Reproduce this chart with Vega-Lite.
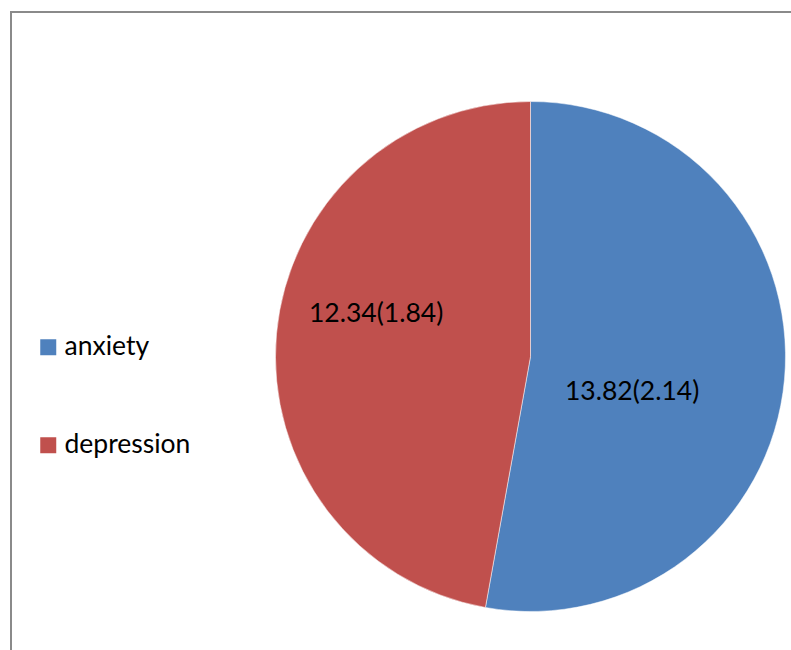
{
  "$schema": "https://vega.github.io/schema/vega-lite/v6.json",
  "autosize": {"type": "none"},
  "padding": {"left": 11, "top": 12, "right": 0, "bottom": 0},
  "width": 1039,
  "height": 689,
  "background": "white",
  "config": {
    "view": {"stroke": null},
    "font": "Lato"
  },
  "data": {
    "values": [
      {"category": "anxiety", "value": 13.82, "label": "13.82(2.14)"},
      {"category": "depression", "value": 12.34, "label": "12.34(1.84)"}
    ]
  },
  "layer": [
    {
      "data": {"values": [{"frame": "chart area"}]},
      "mark": {"type": "rect", "fill": null, "filled": false, "stroke": "#8a8a8a", "strokeWidth": 2},
      "encoding": {}
    },
    {
      "mark": {"type": "arc", "radius": 255, "stroke": "white", "strokeWidth": 0.5},
      "encoding": {
        "theta": {"field": "value", "type": "quantitative", "stack": true},
        "order": {"field": "category", "sort": "ascending"},
        "color": {
          "field": "category",
          "type": "nominal",
          "scale": {"domain": ["anxiety", "depression"], "range": ["#4F81BD", "#C0504D"]},
          "legend": {
            "title": null,
            "orient": "none",
            "legendX": 24,
            "legendY": 322,
            "symbolType": "square",
            "symbolSize": 256,
            "symbolStrokeWidth": 0,
            "labelFont": "Lato",
            "labelFontSize": 26.5,
            "labelColor": "black",
            "labelOffset": 3,
            "rowPadding": 71,
            "padding": 0
          }
        }
      }
    },
    {
      "mark": {"type": "text", "radius": 102, "dy": 26, "fontSize": 26.5, "font": "Lato", "color": "black", "baseline": "middle", "align": "center"},
      "encoding": {
        "theta": {"field": "value", "type": "quantitative", "stack": true},
        "order": {"field": "category", "sort": "ascending"},
        "text": {"condition": {"test": "datum.category == 'anxiety'", "field": "label"}, "value": ""}
      }
    },
    {
      "mark": {"type": "text", "radius": 155, "dy": -29, "fontSize": 26.5, "font": "Lato", "color": "black", "baseline": "middle", "align": "center"},
      "encoding": {
        "theta": {"field": "value", "type": "quantitative", "stack": true},
        "order": {"field": "category", "sort": "ascending"},
        "text": {"condition": {"test": "datum.category == 'depression'", "field": "label"}, "value": ""}
      }
    }
  ]
}
